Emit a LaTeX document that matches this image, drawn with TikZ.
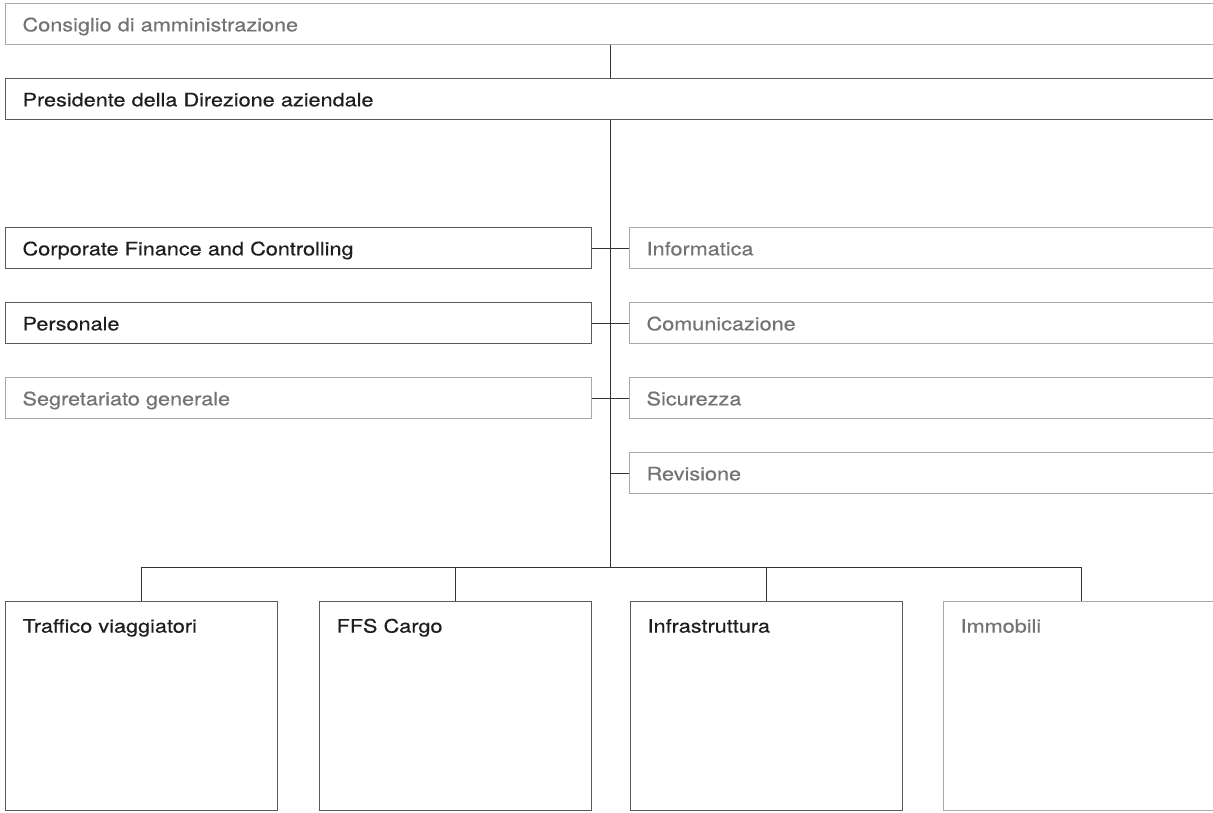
\documentclass[tikz,border=0pt]{standalone}
\usepackage{fontspec}
\setmainfont{TeX Gyre Heros}[FakeStretch=1.17, FakeBold=0.4]
\definecolor{inkdark}{HTML}{1E1E1E}
\definecolor{inkgray}{HTML}{737373}
\definecolor{boxdark}{HTML}{5A5A5A}
\definecolor{boxgray}{HTML}{A8A8A8}
\definecolor{linkdark}{HTML}{333333}
\tikzset{
  rowbox/.style={draw=boxdark, line width=1.2pt, text=inkdark, anchor=north west,
    minimum height=41pt, inner xsep=17pt, inner ysep=0pt,
    text height=14.5pt, text depth=0pt, text width=#1, align=left},
  muted/.style={draw=boxgray, text=inkgray},
  unitbox/.style={draw=boxdark, line width=1.2pt, text=inkdark, anchor=north west,
    text width=238pt, inner xsep=17pt, inner ysep=16pt,
    text height=15pt, text depth=162pt, align=left},
  link/.style={draw=linkdark, line width=1pt}
}
\begin{document}
\begin{tikzpicture}[x=1pt, y=-1pt, font=\fontsize{18.5pt}{22pt}\selectfont]
  \clip (0,0) rectangle (1213,812);
  \fill[white] (0,0) rectangle (1213,812);
  % Board and executive board
  \node[rowbox=1191pt, muted] (cda) at (5,3) {Consiglio di amministrazione};
  \node[rowbox=1191pt] (pres) at (5,78) {Presidente della Direzione aziendale};
  \coordinate (spine) at (610,0);
  % Staff units, left side
  \node[rowbox=552pt] (cfc) at (5,227) {Corporate Finance and Controlling};
  \node[rowbox=552pt] (pers) at (5,302) {Personale};
  \node[rowbox=552pt, muted] (seg) at (5,377) {Segretariato generale};
  % Staff units, right side
  \foreach \name/\y/\lab in {info/227/Informatica, comm/302/Comunicazione,
                             sic/377/Sicurezza, rev/452/Revisione} {
    \node[rowbox=567pt, muted] (\name) at (629,\y) {\lab};
  }
  % Divisions
  \node[unitbox] (tv) at (5,601) {Traffico viaggiatori};
  \node[unitbox] (cargo) at (319,601) {FFS Cargo};
  \node[unitbox] (infra) at (630,601) {Infrastruttura};
  \node[unitbox, muted, text width=242pt] (immo) at (943,601) {Immobili};
  \coordinate (bus) at (610,567);
  % Connectors
  \draw[link] (cda.south -| spine) -- (pres.north -| spine);
  \draw[link] (pres.south -| spine) -- (bus);
  \draw[link] (cfc.east) -- (info.west);
  \draw[link] (pers.east) -- (comm.west);
  \draw[link] (seg.east) -- (sic.west);
  \draw[link] (rev.west) -- (rev.west -| spine);
  \draw[link] (tv.north |- bus) -- (immo.north |- bus);
  \foreach \name in {tv, cargo, infra, immo} {
    \draw[link] (\name.north |- bus) -- (\name.north);
  }
\end{tikzpicture}
\end{document}
